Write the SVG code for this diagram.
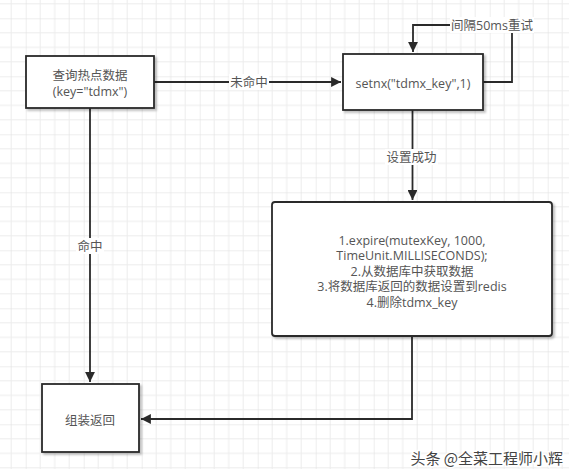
<svg xmlns="http://www.w3.org/2000/svg" width="569" height="469" viewBox="0 0 569 469">
<style>
.node{fill:#fff;stroke:#2a2a2a;stroke-width:1.8;filter:url(#sh)}
.t{font-family:"Open Sans","Noto Sans CJK SC",sans-serif;font-size:12.5px;fill:#555;text-anchor:middle;dominant-baseline:central}
.edge{fill:none;stroke:#2a2a2a;stroke-width:1.8}
.lbl{font-family:"Open Sans","Noto Sans CJK SC",sans-serif;font-size:12.5px;fill:#555;text-anchor:middle;dominant-baseline:central}
.lblbg{fill:#fff}
</style>
<defs>
<pattern id="grid" patternUnits="userSpaceOnUse" x="25.7" y="18.3" width="58" height="58">
<path d="M14.5 0V58M29 0V58M43.5 0V58M0 14.5H58M0 29H58M0 43.5H58" stroke="#ececec" stroke-width="1" fill="none"/>
<path d="M0 0V58M0 0H58" stroke="#dedede" stroke-width="1" fill="none"/>
</pattern>
<filter id="sh" x="-10%" y="-10%" width="130%" height="130%">
<feDropShadow dx="2" dy="2" stdDeviation="0.8" flood-color="#000" flood-opacity="0.25"/>
</filter>
<marker id="arr" viewBox="0 0 10 10" refX="10" refY="5" markerWidth="5.5" markerHeight="5.5" orient="auto" markerUnits="strokeWidth">
<path d="M0 0L10 5L0 10z" fill="#2a2a2a"/>
</marker>
</defs>
<rect width="569" height="469" fill="#fff"/>
<rect width="569" height="469" fill="url(#grid)"/>

<g id="connectors">
<path class="edge" d="M154 82H341" marker-end="url(#arr)"/>
<path class="edge" d="M483 82H512V25H413V52" marker-end="url(#arr)"/>
<path class="edge" d="M412.5 110V200" marker-end="url(#arr)"/>
<path class="edge" d="M90 108V382" marker-end="url(#arr)"/>
<path class="edge" d="M412 336V419H141" marker-end="url(#arr)"/>
<rect class="lblbg" x="229" y="74" width="40" height="16"/>
<text class="lbl" x="249" y="82">未命中</text>
<rect class="lblbg" x="450" y="17" width="84" height="16"/>
<text class="lbl" x="492" y="25">间隔50ms重试</text>
<rect class="lblbg" x="385" y="149" width="53" height="16"/>
<text class="lbl" x="411.5" y="157">设置成功</text>
<rect class="lblbg" x="76" y="238" width="28" height="16"/>
<text class="lbl" x="90" y="246">命中</text>
</g>

<g id="node-query">
<rect class="node" x="26" y="56" width="128" height="52"/>
<text class="t" x="90" y="75">查询热点数据</text>
<text class="t" x="90" y="91">(key="tdmx")</text>
</g>

<g id="node-setnx">
<rect class="node" x="343" y="54" width="140" height="56"/>
<text class="t" x="413" y="83">setnx("tdmx_key",1)</text>
</g>

<g id="node-steps">
<rect class="node" x="272" y="202" width="280" height="134" rx="3"/>
<text class="t" x="412" y="240">1.expire(mutexKey, 1000,</text>
<text class="t" x="412" y="255.5">TimeUnit.MILLISECONDS);</text>
<text class="t" x="412" y="271">2.从数据库中获取数据</text>
<text class="t" x="412" y="286.5">3.将数据库返回的数据设置到redis</text>
<text class="t" x="412" y="302">4.删除tdmx_key</text>
</g>

<g id="node-return">
<rect class="node" x="42" y="384" width="97" height="68"/>
<text class="t" x="90" y="420">组装返回</text>
</g>

<text x="563" y="457" font-family="'Noto Sans CJK SC',sans-serif" font-size="15" fill="#444" text-anchor="end" dominant-baseline="central" stroke="#fff" stroke-width="3" paint-order="stroke">头条 @全菜工程师小辉</text>
</svg>
